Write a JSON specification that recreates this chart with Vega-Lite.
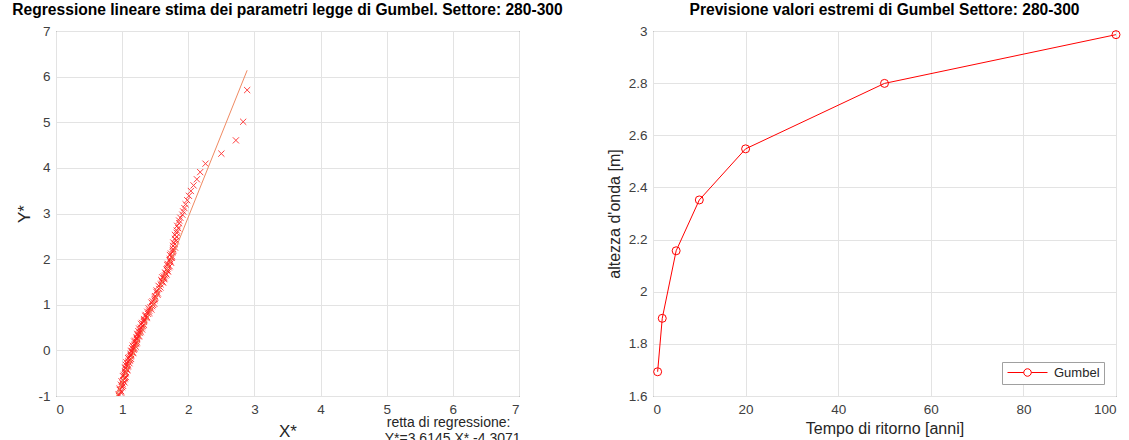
{
  "$schema": "https://vega.github.io/schema/vega-lite/v6.json",
  "padding": {"left": 11, "top": 2, "right": 5, "bottom": 0},
  "spacing": 134,
  "bounds": "flush",
  "resolve": {"scale": {"color": "independent"}, "legend": {"color": "independent"}},
  "config": {
    "font": "Liberation Sans",
    "view": {"stroke": "#404040", "strokeWidth": 1},
    "axis": {
      "labelFont": "Liberation Sans", "labelFontSize": 13.5, "labelColor": "#404040",
      "titleFont": "Liberation Sans", "titleFontWeight": "normal", "titleColor": "#262626", "titleFontSize": 16,
      "gridColor": "#e3e3e3", "domain": false, "ticks": false, "labelPadding": 6
    },
    "title": {"font": "Liberation Sans", "fontSize": 15.6, "fontWeight": "bold", "color": "#000000", "offset": 5}
  },
  "hconcat": [
    {
      "width": 463, "height": 365,
      "title": "Regressione lineare stima dei parametri legge di Gumbel. Settore: 280-300",
      "layer": [
        {
          "data": {"values": [
            {"X":0.92,"Y":-1.170},{"X":0.94,"Y":-1.077},
            {"X":0.95,"Y":-0.997},{"X":0.985,"Y":-0.928},{"X":0.963,"Y":-0.865},{"X":1.000,"Y":-0.807},{"X":0.981,"Y":-0.753},
            {"X":1.036,"Y":-0.702},{"X":1.016,"Y":-0.654},{"X":1.044,"Y":-0.608},{"X":1.011,"Y":-0.563},{"X":1.048,"Y":-0.520},
            {"X":1.050,"Y":-0.478},{"X":1.077,"Y":-0.437},{"X":1.049,"Y":-0.397},{"X":1.080,"Y":-0.358},{"X":1.057,"Y":-0.319},
            {"X":1.110,"Y":-0.2815},{"X":1.090,"Y":-0.244},{"X":1.120,"Y":-0.207},{"X":1.090,"Y":-0.170},{"X":1.129,"Y":-0.1335},
            {"X":1.134,"Y":-0.097},{"X":1.164,"Y":-0.061},{"X":1.138,"Y":-0.025},{"X":1.173,"Y":0.0115},{"X":1.151,"Y":0.0476},
            {"X":1.205,"Y":0.0838},{"X":1.184,"Y":0.1201},{"X":1.213,"Y":0.1565},{"X":1.182,"Y":0.1932},{"X":1.220,"Y":0.230},
            {"X":1.224,"Y":0.2672},{"X":1.254,"Y":0.3047},{"X":1.230,"Y":0.3426},{"X":1.265,"Y":0.3808},{"X":1.246,"Y":0.4196},
            {"X":1.302,"Y":0.4589},{"X":1.283,"Y":0.4987},{"X":1.314,"Y":0.5392},{"X":1.286,"Y":0.5805},{"X":1.327,"Y":0.6225},
            {"X":1.335,"Y":0.6651},{"X":1.371,"Y":0.7088},{"X":1.352,"Y":0.7535},{"X":1.393,"Y":0.7993},{"X":1.380,"Y":0.8463},
            {"X":1.442,"Y":0.8945},{"X":1.430,"Y":0.9442},{"X":1.468,"Y":0.9953},{"X":1.443,"Y":1.0484},{"X":1.488,"Y":1.1032},
            {"X":1.499,"Y":1.1599},{"X":1.535,"Y":1.2191},{"X":1.518,"Y":1.2809},{"X":1.560,"Y":1.3455},{"X":1.551,"Y":1.4134},
            {"X":1.619,"Y":1.485},{"X":1.601,"Y":1.5223},{"X":1.633,"Y":1.5606},{"X":1.606,"Y":1.6004},{"X":1.650,"Y":1.6414},
            {"X":1.658,"Y":1.6836},{"X":1.693,"Y":1.7276},{"X":1.670,"Y":1.7731},{"X":1.704,"Y":1.8207},{"X":1.683,"Y":1.8694},
            {"X":1.739,"Y":1.9213},{"X":1.719,"Y":1.9747},{"X":1.750,"Y":2.031},{"X":1.722,"Y":2.0907},{"X":1.764,"Y":2.1533},
            {"X":1.772,"Y":2.2191},{"X":1.799,"Y":2.2538},{"X":1.769,"Y":2.2897},{"X":1.798,"Y":2.3269},{"X":1.773,"Y":2.3645},
            {"X":1.818,"Y":2.4047},{"X":1.797,"Y":2.4453},{"X":1.823,"Y":2.4877},{"X":1.798,"Y":2.532},{"X":1.824,"Y":2.5783},
            {"X":1.826,"Y":2.6269},{"X":1.849,"Y":2.6765},{"X":1.832,"Y":2.7302},{"X":1.861,"Y":2.7854},{"X":1.862,"Y":2.8456},
            {"X":1.880,"Y":2.9077},{"X":1.911,"Y":2.974},{"X":1.923,"Y":3.0449},{"X":1.941,"Y":3.119},{"X":1.960,"Y":3.2015},
            {"X":1.984,"Y":3.2914},{"X":2.010,"Y":3.3873},{"X":2.039,"Y":3.4934},{"X":2.080,"Y":3.6157},{"X":2.130,"Y":3.7504},
            {"X":2.180,"Y":3.907},{"X":2.260,"Y":4.0921},{"X":2.500,"Y":4.3125},{"X":2.720,"Y":4.6031},{"X":2.830,"Y":5.0104},
            {"X":2.890,"Y":5.7053},
            {"X":0.948,"Y":-0.9617},{"X":0.986,"Y":-0.8957},{"X":0.964,"Y":-0.8355},{"X":1.015,"Y":-0.7796},{"X":1.006,"Y":-0.7273},
            {"X":0.991,"Y":-0.6778},{"X":1.035,"Y":-0.6305},{"X":1.057,"Y":-0.5851},{"X":1.025,"Y":-0.5412},{"X":1.052,"Y":-0.4987},
            {"X":1.044,"Y":-0.4574},{"X":1.075,"Y":-0.4170},{"X":1.047,"Y":-0.3774},{"X":1.093,"Y":-0.3386},{"X":1.080,"Y":-0.3004},
            {"X":1.065,"Y":-0.2627},{"X":1.110,"Y":-0.2254},{"X":1.135,"Y":-0.1884},{"X":1.105,"Y":-0.1517},{"X":1.134,"Y":-0.1152},
            {"X":1.129,"Y":-0.0789},{"X":1.164,"Y":-0.0428},{"X":1.138,"Y":-0.0066},{"X":1.187,"Y":0.0295},{"X":1.176,"Y":0.0657},
            {"X":1.160,"Y":0.1019},{"X":1.203,"Y":0.1383},{"X":1.227,"Y":0.1748},{"X":1.196,"Y":0.2116},{"X":1.225,"Y":0.2486},
            {"X":1.219,"Y":0.2859},{"X":1.254,"Y":0.3236},{"X":1.230,"Y":0.3617},{"X":1.281,"Y":0.4002},{"X":1.271,"Y":0.4393},
            {"X":1.257,"Y":0.4788},{"X":1.304,"Y":0.5190},{"X":1.330,"Y":0.5598},{"X":1.301,"Y":0.6015},{"X":1.333,"Y":0.6438},
            {"X":1.333,"Y":0.6870},{"X":1.374,"Y":0.7310},{"X":1.355,"Y":0.7763},{"X":1.412,"Y":0.8228},{"X":1.409,"Y":0.8704},
            {"X":1.401,"Y":0.9193},{"X":1.454,"Y":0.9697},{"X":1.486,"Y":1.0217},{"X":1.461,"Y":1.0756},{"X":1.496,"Y":1.1313},
            {"X":1.497,"Y":1.1894},{"X":1.539,"Y":1.2497},{"X":1.521,"Y":1.3130},{"X":1.580,"Y":1.3791},{"X":1.582,"Y":1.4485},
            {"X":1.610,"Y":1.5037},{"X":1.592,"Y":1.5413},{"X":1.640,"Y":1.5803},{"X":1.628,"Y":1.6210},{"X":1.672,"Y":1.6623},
            {"X":1.651,"Y":1.7059},{"X":1.685,"Y":1.7504},{"X":1.684,"Y":1.7970},{"X":1.719,"Y":1.8452},{"X":1.688,"Y":1.8952},
            {"X":1.729,"Y":1.9477},{"X":1.720,"Y":2.0025},{"X":1.756,"Y":2.0605},{"X":1.738,"Y":2.1212},{"X":1.771,"Y":2.1857}
          ]},
          "mark": {"type": "point", "shape": "M-1,-1L1,1M-1,1L1,-1", "filled": false, "color": "#ff2020", "strokeWidth": 1, "size": 38, "opacity": 0.85, "clip": true},
          "encoding": {
            "x": {"field": "X", "type": "quantitative", "scale": {"domain": [0, 7], "nice": false, "zero": false},
                  "axis": {"values": [0,1,2,3,4,5,6,7], "labelExpr": "'' + datum.value", "title": "X*", "titleFontSize": 17, "titlePadding": 8}},
            "y": {"field": "Y", "type": "quantitative", "scale": {"domain": [-1, 7], "nice": false, "zero": false},
                  "axis": {"values": [-1,0,1,2,3,4,5,6,7], "labelExpr": "'' + datum.value", "title": "Y*", "titleFontSize": 17, "titlePadding": 4}}
          }
        },
        {
          "data": {"values": [{"X": 0.88, "Y": -1.126}, {"X": 2.89, "Y": 6.139}]},
          "mark": {"type": "line", "color": "#f08a62", "strokeWidth": 1, "clip": true},
          "encoding": {
            "x": {"field": "X", "type": "quantitative"},
            "y": {"field": "Y", "type": "quantitative"}
          }
        },
        {
          "data": {"values": [
            {"X": 5.0, "Y": -1.59, "t": "retta di regressione:"},
            {"X": 4.97, "Y": -1.95, "t": "Y*=3.6145 X* -4.3071"}
          ]},
          "mark": {"type": "text", "align": "left", "baseline": "middle", "fontSize": 14, "color": "#262626", "font": "Liberation Sans"},
          "encoding": {
            "x": {"field": "X", "type": "quantitative"},
            "y": {"field": "Y", "type": "quantitative"},
            "text": {"field": "t"}
          }
        }
      ]
    },
    {
      "width": 463, "height": 365,
      "title": "Previsione valori estremi di Gumbel Settore: 280-300",
      "data": {"values": [
        {"T": 1, "H": 1.693, "serie": "Gumbel"},
        {"T": 2, "H": 1.898, "serie": "Gumbel"},
        {"T": 5, "H": 2.157, "serie": "Gumbel"},
        {"T": 10, "H": 2.352, "serie": "Gumbel"},
        {"T": 20, "H": 2.548, "serie": "Gumbel"},
        {"T": 50, "H": 2.799, "serie": "Gumbel"},
        {"T": 100, "H": 2.986, "serie": "Gumbel"}
      ]},
      "mark": {"type": "line", "strokeWidth": 1, "point": {"filled": false, "size": 64, "strokeWidth": 1, "shape": "circle"}},
      "encoding": {
        "x": {"field": "T", "type": "quantitative", "scale": {"domain": [0, 100], "nice": false, "zero": false},
              "axis": {"values": [0,20,40,60,80,100], "format": "d", "title": "Tempo di ritorno [anni]", "titlePadding": 5}},
        "y": {"field": "H", "type": "quantitative", "scale": {"domain": [1.6, 3], "nice": false, "zero": false},
              "axis": {"values": [1.6,1.8,2,2.2,2.4,2.6,2.8,3], "format": "~g", "title": "altezza d'onda [m]", "titlePadding": 6}},
        "color": {"field": "serie", "type": "nominal", "scale": {"range": ["#ff0000"]},
                  "legend": {"title": null, "orient": "bottom-right", "offset": 12,
                             "symbolType": "M-1,0L2.25,0M3.75,0L7,0M3.75,0A0.75,0.75,0,1,1,2.25,0A0.75,0.75,0,1,1,3.75,0",
                             "symbolSize": 100, "symbolStrokeWidth": 1, "symbolFillColor": "transparent",
                             "labelOffset": 35, "labelFontSize": 13, "labelColor": "#262626", "labelFont": "Liberation Sans",
                             "strokeColor": "#a0a0a0", "fillColor": "#ffffff", "padding": 4}}
      }
    }
  ]
}
